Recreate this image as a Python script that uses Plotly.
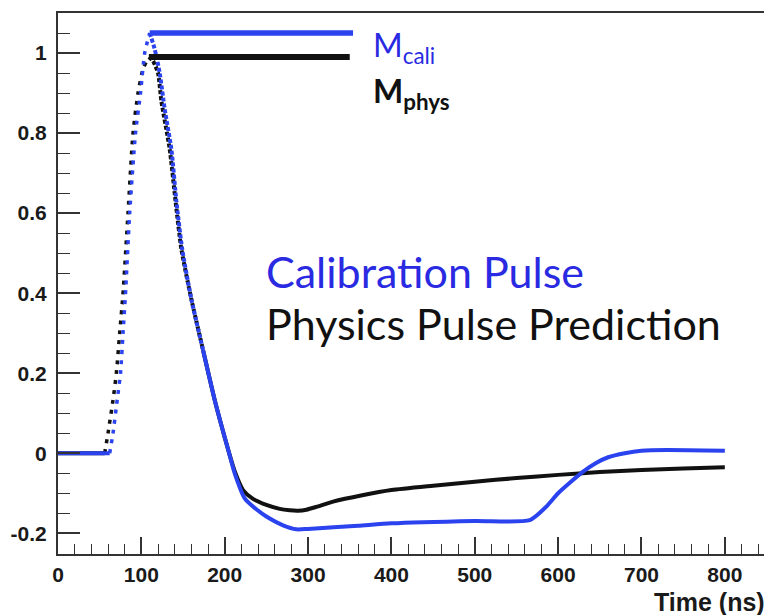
import plotly.graph_objects as go

# ---------------- data ----------------
# Physics pulse prediction (black)
t_phys = [0, 56, 60, 66, 70, 74, 78, 84, 90, 96, 102, 109, 114, 120, 124, 134, 141,
          148, 160, 174, 188, 196, 204, 212, 222, 234, 250, 266, 278, 288, 298, 310,
          330, 365, 400, 450, 500, 550, 600, 650, 700, 750, 800]
v_phys = [0, 0, 0.05, 0.133, 0.2, 0.3, 0.4, 0.6, 0.8, 0.9, 0.96, 0.99, 0.98, 0.95,
          0.88, 0.76, 0.63, 0.51, 0.385, 0.258, 0.133, 0.07, 0.01, -0.045, -0.092,
          -0.114, -0.129, -0.139, -0.1425, -0.1435, -0.141, -0.134, -0.121, -0.105,
          -0.092, -0.081, -0.071, -0.062, -0.054, -0.047, -0.042, -0.038, -0.035]

# Calibration pulse (blue)
t_cali = [0, 62, 66, 71, 75, 78, 81, 86, 93, 99, 104, 110, 116, 122, 128, 136, 142,
          149, 160, 174, 188, 196, 204, 212, 224, 238, 250, 270, 286, 300, 360, 400,
          500, 566, 585, 600, 615, 630, 645, 660, 680, 700, 730, 800]
v_cali = [0, 0, 0.05, 0.133, 0.2, 0.3, 0.4, 0.6, 0.8, 0.9, 1.0, 1.05, 1.01, 0.95,
          0.86, 0.76, 0.63, 0.51, 0.385, 0.258, 0.133, 0.07, 0.01, -0.05, -0.1125,
          -0.14, -0.158, -0.18, -0.19, -0.189, -0.181, -0.175, -0.169, -0.167, -0.135,
          -0.1, -0.072, -0.046, -0.025, -0.01, 0.0, 0.006, 0.008, 0.006]

# end times of the maximum marker lines (M_cali, M_phys)
m_line_end = {"cali": 354, "phys": 350}

x_tickvals = [0, 100, 200, 300, 400, 500, 600, 700, 800]
y_tickvals = [-0.2, 0, 0.2, 0.4, 0.6, 0.8, 1]
y_ticktext = ["-0.2", "0", "0.2", "0.4", "0.6", "0.8", "1"]

BLUE = "#2b43ee"
BLUE_TXT = "#2a2ae2"
BLACK = "#111111"


def seg(t, v, t0, t1):
    pts = [(a, b) for a, b in zip(t, v) if t0 <= a <= t1]
    return [p[0] for p in pts], [p[1] for p in pts]


def add_pulse(fig, t, v, color, knee):
    ipk = v.index(max(v))
    tpk = t[ipk]
    # flat baseline
    x, y = seg(t, v, 0, knee)
    fig.add_trace(go.Scatter(x=x, y=y, mode="lines",
                             line=dict(color=color, width=4), hoverinfo="skip"))
    # rising edge (sparse dots)
    x, y = seg(t, v, knee, tpk)
    fig.add_trace(go.Scatter(x=x, y=y, mode="lines",
                             line=dict(color=color, width=3.5, dash="4px,6px",
                                       shape="spline", smoothing=0.6),
                             hoverinfo="skip"))
    # upper falling edge (dense dots)
    x, y = seg(t, v, tpk, 175)
    fig.add_trace(go.Scatter(x=x, y=y, mode="lines",
                             line=dict(color=color, width=4, dash="4px,2px",
                                       shape="spline", smoothing=0.6),
                             hoverinfo="skip"))
    # rest solid
    x, y = seg(t, v, 174, 10000)
    fig.add_trace(go.Scatter(x=x, y=y, mode="lines",
                             line=dict(color=color, width=4, shape="spline",
                                       smoothing=0.6),
                             hoverinfo="skip"))
    return tpk, v[ipk]


fig = go.Figure()
tpk_p, vpk_p = add_pulse(fig, t_phys, v_phys, BLACK, 56)
tpk_c, vpk_c = add_pulse(fig, t_cali, v_cali, BLUE, 62)

# maximum marker lines
fig.add_trace(go.Scatter(x=[tpk_p, m_line_end["phys"]], y=[vpk_p, vpk_p], mode="lines",
                         line=dict(color=BLACK, width=6), hoverinfo="skip"))
fig.add_trace(go.Scatter(x=[tpk_c, m_line_end["cali"]], y=[vpk_c, vpk_c], mode="lines",
                         line=dict(color=BLUE, width=5.5), hoverinfo="skip"))

tickfont = dict(family="Liberation Sans", size=21, color="#1a1a1a", weight="bold")

fig.update_xaxes(range=[0, 847], tickvals=x_tickvals, ticks="inside", ticklen=17,
                 tickwidth=1.6, tickcolor="#333", showline=True, linecolor="#333",
                 linewidth=2, mirror=True, showgrid=False, zeroline=False,
                 tickfont=tickfont, ticklabelstandoff=1,
                 minor=dict(dtick=20, ticks="inside", ticklen=10, tickwidth=1.4,
                            tickcolor="#333", showgrid=False))
fig.update_yaxes(range=[-0.2517, 1.1], tickvals=y_tickvals, ticktext=y_ticktext,
                 ticks="inside", ticklen=22, tickwidth=1.6, tickcolor="#333",
                 showline=True, linecolor="#333", linewidth=2, mirror=False,
                 showgrid=False, zeroline=False, tickfont=tickfont,
                 ticklabelstandoff=5,
                 minor=dict(dtick=0.05, ticks="inside", ticklen=12, tickwidth=1.4,
                            tickcolor="#333", showgrid=False))

annos = [
    dict(x=376, y=1.016, xref="x", yref="y", xanchor="left", yanchor="middle",
         text="M<sub>cali</sub>", showarrow=False,
         font=dict(family="Lato", size=32, color=BLUE_TXT)),
    dict(x=376, y=0.9, xref="x", yref="y", xanchor="left", yanchor="middle",
         text="<b>M<sub>phys</sub></b>", showarrow=False,
         font=dict(family="Lato", size=32, color=BLACK)),
    dict(x=247, y=0.455, xref="x", yref="y", xanchor="left", yanchor="middle",
         text="Calibration Pulse", showarrow=False,
         font=dict(family="Lato", size=43, color=BLUE_TXT)),
    dict(x=247, y=0.325, xref="x", yref="y", xanchor="left", yanchor="middle",
         text="Physics Pulse Prediction", showarrow=False,
         font=dict(family="Lato", size=43, color=BLACK)),
    dict(x=1, y=-0.0885, xref="paper", yref="paper", xanchor="right", yanchor="middle",
         xshift=3, text="Time (ns)", showarrow=False,
         font=dict(family="Liberation Sans", size=25, color="#1a1a1a", weight="bold")),
]
fig.update_layout(width=764, height=615, margin=dict(l=58, r=0, t=13, b=61),
                  paper_bgcolor="white", plot_bgcolor="white", showlegend=False,
                  annotations=annos)

fig.write_html("out.html")
